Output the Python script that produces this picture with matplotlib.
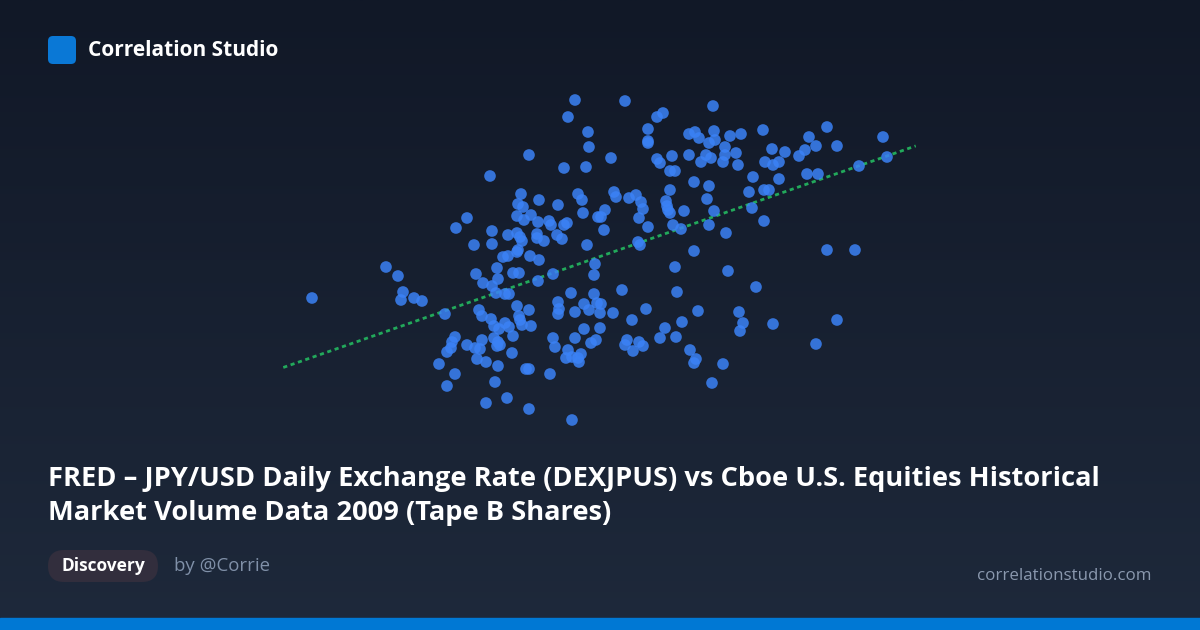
import matplotlib
matplotlib.use("Agg")
import matplotlib.pyplot as plt
from matplotlib.patches import FancyBboxPatch, Rectangle
import numpy as np

# scatter values (arbitrary units)
x_vals = [57.5, 56.8, 58.8, 58.9, 52.9, 56.4, 58.6, 49.0, 52.1, 57.8, 58.2, 53.9, 55.8, 51.8, 52.3,
          58.3, 59.8, 46.7, 45.6, 51.7, 52.4, 53.1, 53.8, 54.9, 55.1, 56.7, 56.4, 49.2, 50.8, 51.7,
          52.0, 53.7, 53.7, 54.4, 55.7, 56.2, 52.2, 47.4, 49.2, 58.7, 51.8, 51.7, 53.0, 50.3, 50.8,
          53.9, 62.5, 71.3, 65.7, 66.3, 64.8, 64.8, 64.8, 68.9, 69.5, 69.9, 71.4, 70.9, 71.5, 73.0,
          74.1, 76.3, 82.7, 88.3, 80.9, 81.6, 83.7, 77.2, 78.5, 80.5, 79.9, 72.5, 73.6, 72.5, 68.9,
          67.2, 70.6, 71.1, 70.1, 72.3, 73.8, 76.5, 77.9, 77.3, 88.7, 85.9, 61.1, 65.7, 66.0, 67.0,
          67.5, 75.3, 77.9, 80.7, 81.8, 69.4, 70.9, 67.0, 74.9, 76.4, 76.9, 61.4, 61.6, 62.9, 63.6,
          64.1, 64.3, 66.6, 66.7, 66.8, 67.0, 68.4, 70.7, 71.4, 75.2, 76.4, 72.6, 70.9, 67.3, 68.1,
          64.8, 63.9, 60.5, 60.1, 60.4, 63.8, 64.0, 69.4, 82.7, 85.5, 38.6, 39.8, 31.2, 40.3, 40.1,
          41.4, 42.2, 44.5, 47.6, 48.3, 49.7, 49.8, 49.2, 49.6, 50.5, 50.9, 51.3, 51.9, 53.8, 55.3,
          59.5, 59.4, 57.1, 59.4, 59.7, 60.1, 60.0, 55.8, 55.9, 55.8, 57.5, 58.4, 58.9, 51.7, 52.9,
          47.9, 48.2, 49.1, 49.4, 50.5, 50.9, 49.9, 51.9, 52.0, 52.2, 53.1, 51.3, 49.4, 49.8, 49.7,
          50.0, 48.2, 45.5, 45.2, 45.1, 44.7, 46.7, 47.5, 48.0, 47.7, 48.6, 51.2, 43.9, 49.8, 52.6,
          52.9, 55.0, 55.3, 55.5, 56.8, 56.6, 57.2, 57.8, 58.1, 57.9, 58.4, 57.5, 59.1, 59.6, 60.0,
          45.5, 44.7, 49.5, 50.7, 48.6, 52.9, 57.2, 67.5, 72.8, 75.6, 62.2, 67.7, 61.3, 64.6, 63.2,
          69.8, 68.2, 66.5, 73.9, 74.3, 74.0, 77.3, 83.7, 62.7, 62.5, 63.3, 63.9, 64.3, 66.0, 67.6,
          69.0, 69.6, 69.4, 72.3, 71.2, 81.6]
y_vals = [33.0, 31.3, 29.8, 28.3, 27.5, 26.2, 26.3, 25.4, 23.6, 23.6, 23.0, 23.0, 22.5, 22.6, 22.3,
          21.7, 21.3, 21.2, 20.2, 21.4, 21.0, 21.5, 20.8, 20.9, 20.5, 20.7, 20.5, 19.9, 19.5, 19.7,
          19.3, 19.6, 19.2, 18.9, 19.5, 19.1, 18.9, 18.5, 18.6, 18.5, 18.0, 17.8, 17.4, 17.3, 17.4,
          17.0, 32.9, 32.4, 31.3, 31.7, 30.1, 28.9, 28.7, 29.6, 29.8, 29.2, 29.9, 28.7, 29.0, 29.4,
          29.6, 30.0, 30.3, 29.3, 29.3, 28.4, 28.4, 28.1, 27.8, 28.0, 27.4, 28.3, 27.7, 27.5, 27.5,
          27.4, 27.5, 27.2, 26.8, 26.8, 26.5, 26.8, 26.8, 26.5, 27.3, 26.4, 27.2, 27.1, 26.7, 25.9,
          25.9, 25.3, 25.1, 25.6, 25.6, 24.8, 24.4, 24.0, 23.8, 24.0, 24.0, 23.8, 23.3, 23.2, 23.5,
          22.8, 22.1, 22.9, 22.4, 22.0, 21.7, 21.9, 23.1, 21.9, 22.2, 20.9, 19.7, 20.5, 20.5, 20.1,
          20.3, 21.2, 22.0, 21.3, 20.0, 18.8, 18.5, 17.9, 18.0, 18.0, 16.3, 15.4, 13.2, 13.8, 13.0,
          13.2, 12.9, 11.6, 15.6, 14.7, 16.2, 15.1, 14.4, 13.7, 13.6, 13.6, 15.7, 15.7, 14.9, 15.6,
          16.6, 15.5, 13.7, 13.6, 12.7, 12.6, 11.7, 12.8, 12.1, 11.6, 11.8, 12.6, 12.0, 12.4, 12.0,
          12.0, 11.4, 11.1, 10.4, 10.7, 10.3, 10.1, 11.4, 11.0, 10.5, 10.4, 9.4, 9.2, 8.8, 8.4,
          8.5, 9.0, 9.3, 8.8, 8.2, 7.8, 8.5, 8.2, 8.1, 7.1, 6.8, 7.7, 6.6, 6.4, 6.1,
          6.1, 5.6, 9.2, 8.3, 8.0, 7.2, 7.3, 7.2, 7.6, 6.8, 10.1, 9.2, 8.7, 9.0, 10.2,
          5.6, 4.4, 4.8, 3.2, 2.7, 2.1, 1.0, 16.3, 15.9, 14.3, 14.0, 13.8, 11.7, 12.1, 11.0,
          11.9, 10.8, 10.2, 11.8, 10.7, 9.9, 10.6, 11.0, 9.0, 8.5, 7.9, 8.8, 8.4, 9.2, 9.3,
          8.0, 7.1, 6.7, 6.6, 4.7, 8.6]

brand = "Correlation Studio"
title_lines = ["FRED \u2013 JPY/USD Daily Exchange Rate (DEXJPUS) vs Cboe U.S. Equities Historical",
               "Market Volume Data 2009 (Tape B Shares)"]
tag = "Discovery"
author = "by @Corrie"
site = "correlationstudio.com"

plt.rcParams['font.family'] = ['Open Sans', 'DejaVu Sans']

W, H = 1200, 630
fig = plt.figure(figsize=(W / 100, H / 100), dpi=100)

# background layer in pixel units
bg = fig.add_axes([0, 0, 1, 1])
bg.set_xlim(0, W)
bg.set_ylim(H, 0)
bg.axis('off')
top = np.array([17, 24, 39]) / 255
bottom = np.array([30, 41, 59]) / 255
t = np.linspace(0, 1, 256)[:, None, None]
grad = top * (1 - t) + bottom * t
bg.imshow(np.repeat(grad, 2, axis=1), extent=[0, W, H, 0], aspect='auto', zorder=0)
bg.add_patch(Rectangle((0, 618), W, 12, color='#0078d4', zorder=1))

# header
bg.add_patch(FancyBboxPatch((48, 36), 28, 28, boxstyle="round,pad=0,rounding_size=5",
                            fc='#0a78d6', ec='none', zorder=2))
bg.text(88, 50, brand, color='white', fontsize=15, fontweight='bold', va='center', ha='left')

# title
bg.text(48, 479, title_lines[0], color='white', fontsize=19.6, fontweight='bold', va='center', ha='left')
bg.text(48, 513, title_lines[1], color='white', fontsize=19.6, fontweight='bold', va='center', ha='left')

# footer
bg.add_patch(FancyBboxPatch((48, 550), 110, 32, boxstyle="round,pad=0,rounding_size=16",
                            fc='#322e3d', ec='none', zorder=2))
bg.text(103, 566, tag, color='white', fontsize=12.5, fontweight='bold', va='center', ha='center')
bg.text(174, 566, author, color='#8090a8', fontsize=13.4, va='center', ha='left')
bg.text(1151, 576, site, color='#8a98ae', fontsize=12.2, va='center', ha='right')

# scatter panel
x = np.array(x_vals)
y = np.array(y_vals)
pad = 0.05 * (x.max() - x.min())
x0, x1 = x.min() - pad, x.max() + pad
ax = fig.add_axes([(x0 * 10) / W, (H - 430) / H, (x1 - x0) * 10 / W, 345 / H])
ax.set_xlim(x0, x1)
ax.set_ylim(0, 34.5)
ax.axis('off')
ax.patch.set_alpha(0)

ax.scatter(x, y, s=70, color='#3b82f6', alpha=0.85, edgecolors='none', zorder=3)

slope, icpt = np.polyfit(x, y, 1)
xl = np.array([x0, x1])
ax.plot(xl, slope * xl + icpt, color='#22a95b', lw=2, ls=(0, (1.5, 1.3)), zorder=2)

fig.savefig('out.png', dpi=100, facecolor=fig.get_facecolor())
